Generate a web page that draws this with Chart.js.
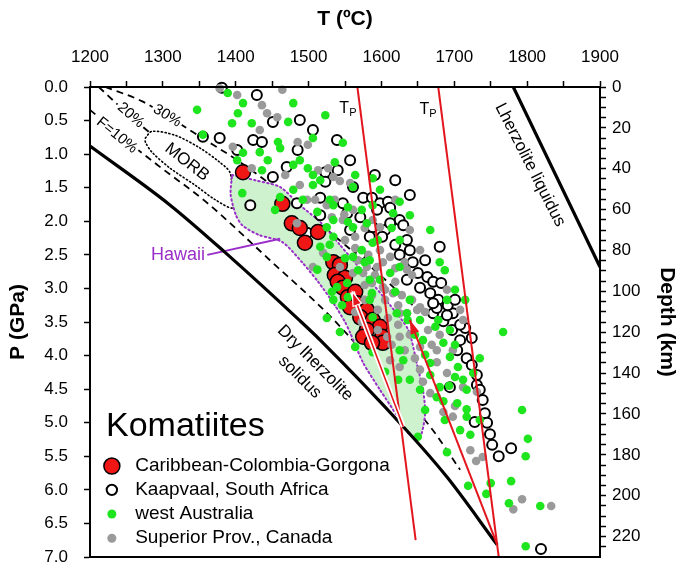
<!DOCTYPE html>
<html>
<head>
<meta charset="utf-8">
<script src="https://cdn.jsdelivr.net/npm/chart.js@4.4.0/dist/chart.umd.min.js"></script>
<style>
html,body{margin:0;padding:0;background:#fff;}
#wrap{width:685px;height:567px;}
</style>
</head>
<body>
<div id="wrap"><canvas id="c" width="685" height="567"></canvas></div>
<script>
const FONT = '"Liberation Sans", Arial, Helvetica, sans-serif';

// ---------- tick labels ----------
const tempTickLabels = [1200, 1300, 1400, 1500, 1600, 1700, 1800, 1900];
const pressureTickLabels = [0, 0.5, 1, 1.5, 2, 2.5, 3, 3.5, 4, 4.5, 5, 5.5, 6, 6.5, 7];
const depthTickLabels = [0, 20, 40, 60, 80, 100, 120, 140, 160, 180, 200, 220];

// ---------- series: [T (°C), P (GPa)] ----------
const caribbean = [
  [1410,1.27],[1464,1.74],[1477,2.03],[1488,2.10],[1513,2.16],[1495,2.32],[1534,2.61],[1543,2.65],
  [1536,2.80],[1550,2.84],[1540,2.90],[1547,2.99],[1554,3.13],[1564,3.05],[1566,3.22],[1557,3.28],
  [1580,3.32],[1571,3.43],[1588,3.47],[1598,3.57],[1580,3.62],[1601,3.72],[1575,3.72],[1602,3.81],[1587,3.81]
];
const kaapvaal = [
  [1381,0.01],[1429,0.12],[1451,0.52],[1506,0.64],[1355,0.74],[1378,0.76],[1424,0.79],[1436,0.82],
  [1539,0.79],[1402,0.94],[1485,0.94],[1470,1.19],[1540,1.24],[1451,1.34],[1523,1.27],[1523,1.41],
  [1561,1.49],[1575,1.65],[1516,1.65],[1420,1.76],[1484,1.73],[1547,1.73],[1553,1.88],[1571,1.94],
  [1587,1.65],[1598,1.73],[1609,1.71],[1594,1.83],[1612,1.80],[1516,1.91],[1588,2.09],[1605,2.13],
  [1625,1.98],[1612,2.03],[1630,2.06],[1584,2.23],[1601,2.23],[1635,2.28],[1498,2.17],[1680,2.38],
  [1625,2.50],[1643,2.61],[1650,2.77],[1663,2.83],[1671,2.90],[1682,2.92],[1653,2.99],[1635,2.87],
  [1667,3.07],[1678,3.17],[1698,3.37],[1671,3.37],[1685,3.49],[1676,3.29],[1697,3.62],[1724,3.74],
  [1717,4.04],[1731,4.44],[1739,4.66],[1742,4.86],[1745,5.00],[1694,4.47],[1728,4.99],[1708,3.77],
  [1690,3.40],[1671,3.22],[1724,4.14],[1731,4.29],[1735,4.51],[1749,5.17],[1752,5.33],[1761,5.50],
  [1778,5.38],[1819,6.88],[1557,2.13],[1571,2.50],[1619,2.35],[1639,2.43],[1704,3.92],[1715,3.59],
  [1660,2.58],[1691,3.25],[1708,3.54],[1701,3.17],[1619,1.39],[1639,1.61],[1557,1.09],[1591,1.31],[1488,0.49]
];
const westAustralia = [
  [1389,0.09],[1479,0.24],[1410,0.24],[1347,0.34],[1403,0.39],[1523,0.42],[1395,0.54],[1422,0.54],
  [1472,0.52],[1355,0.71],[1458,0.82],[1506,0.76],[1547,0.83],[1410,0.98],[1433,0.97],[1461,0.91],
  [1479,1.16],[1536,1.12],[1402,1.09],[1444,1.09],[1436,1.24],[1506,1.31],[1561,1.49],[1479,1.53],
  [1506,1.46],[1409,1.58],[1461,1.64],[1454,1.83],[1534,1.76],[1554,1.79],[1512,1.86],[1588,1.76],
  [1561,2.09],[1525,2.09],[1534,2.23],[1588,2.32],[1516,2.38],[1584,2.58],[1512,2.72],[1539,2.98],
  [1554,3.13],[1584,2.87],[1488,1.09],[1499,1.21],[1588,1.36],[1625,1.71],[1492,1.68],[1573,1.83],
  [1616,1.88],[1534,1.98],[1580,2.03],[1625,2.28],[1680,2.61],[1573,2.43],[1625,2.68],[1612,2.77],
  [1587,3.07],[1553,2.92],[1534,3.17],[1525,2.53],[1561,2.53],[1639,3.17],[1621,3.37],[1653,3.47],
  [1767,3.65],[1793,4.81],[1690,3.17],[1674,3.57],[1694,4.02],[1685,3.81],[1705,4.17],[1701,4.32],
  [1712,4.36],[1680,4.47],[1676,4.62],[1717,4.51],[1704,4.71],[1717,4.91],[1735,4.96],[1726,4.26],
  [1525,3.44],[1543,3.65],[1564,3.87],[1588,3.95],[1630,4.07],[1623,4.36],[1653,4.51],[1650,5.21],
  [1690,5.44],[1685,4.68],[1735,4.04],[1722,5.18],[1667,4.11],[1657,3.77],[1625,3.92],[1635,3.37],
  [1584,3.17],[1588,3.43],[1693,4.45],[1717,4.80],[1801,5.24],[1798,5.50],[1719,5.94],[1750,5.90],
  [1778,5.87],[1744,6.06],[1775,6.20],[1818,6.24],[1798,6.84],[1532,3.05],[1546,3.25],
  [1529,2.35],[1550,2.55],[1568,2.73],[1577,2.61],[1598,2.87],[1619,3.05],[1636,3.47],[1646,3.69],
  [1660,3.99],[1678,3.47],[1694,3.62],[1701,3.84],[1614,2.10],[1595,2.28],[1554,2.01],[1529,1.68],
  [1516,1.39],[1564,1.31],[1598,1.53],[1639,1.91],[1667,2.13],[1687,2.73],[1701,3.02],[1715,3.17],
  [1605,4.24],[1639,4.36],[1667,4.29],[1687,4.96],[1660,4.81],[1708,5.11]
];
const superior = [
  [1378,0.02],[1402,0.12],[1464,0.04],[1436,0.27],[1443,0.39],[1457,0.45],[1433,0.64],[1485,0.82],
  [1499,0.86],[1396,0.89],[1527,1.21],[1422,1.21],[1557,1.43],[1498,1.68],[1561,1.83],[1532,1.94],
  [1588,1.98],[1484,2.03],[1520,2.47],[1575,2.77],[1594,2.68],[1513,1.24],[1534,1.34],[1543,1.40],
  [1536,1.68],[1525,1.76],[1549,1.90],[1547,1.98],[1598,2.09],[1564,2.23],[1598,2.43],[1612,2.53],
  [1690,3.02],[1708,3.32],[1712,3.47],[1602,2.98],[1580,2.68],[1561,2.77],[1543,2.68],[1506,2.68],
  [1616,3.07],[1649,3.32],[1635,3.37],[1635,2.72],[1698,3.92],[1690,4.26],[1676,4.10],[1685,4.84],
  [1698,4.91],[1625,4.17],[1657,4.39],[1712,4.47],[1731,4.54],[1722,5.41],[1739,5.51],[1653,4.21],
  [1676,3.92],[1653,3.28],[1625,3.37],[1653,3.87],[1625,3.72],[1608,3.72],[1595,3.32],[1667,4.56],
  [1730,5.57],[1781,6.29],[1793,6.14],[1833,6.24],[1701,4.75],[1568,2.58],[1577,2.95],[1587,3.10],
  [1605,3.17],[1619,2.90],[1628,3.10],[1591,2.80],[1609,3.44],[1623,3.54],[1639,3.69],[1573,3.50],
  [1564,2.40],[1582,2.50],[1602,2.61],[1619,2.70],[1632,2.61],[1642,2.80],[1587,2.92],[1605,3.02],
  [1623,3.25],[1642,3.17],[1660,3.35],[1577,3.17],[1595,3.62],[1614,3.84],[1632,3.92],[1646,4.04],
  [1612,4.07],[1664,3.62],[1669,3.84],[1564,3.35],[1550,2.28],[1509,1.68],[1488,1.46],[1468,1.31],
  [1577,2.10],[1619,1.68],[1639,2.13],[1653,2.43],[1680,3.69]
];

// ---------- curves ----------
const drySolidus = [[1200,0.88],[1310,1.76],[1385,2.46],[1488,3.48],[1516,3.77],[1630,5.06],[1690,5.81],[1759,6.82]];
const lherzLiquidus = [[1781,0.0],[1900,2.68]];
const meltF10 = [[1200,0.34],[1241,0.72],[1296,1.19],[1358,1.70],[1447,2.58],[1532,3.44],[1598,4.23],[1667,5.06],[1708,5.70]];
const meltF20 = [[1212,0.0],[1250,0.38],[1290,0.75],[1350,1.22],[1420,1.80],[1480,2.35],[1540,2.95],[1600,3.60],[1640,4.10]];
const meltF30 = [[1221,0.0],[1271,0.21],[1306,0.43],[1351,0.74],[1402,1.09],[1461,1.56],[1529,2.16],[1598,2.80],[1653,3.35]];
const adiabatTp1 = [[1567,0.0],[1647,6.75]];
const adiabatTp2 = [[1678,0.0],[1761,7.0]];
const meltPath1 = [[1630,5.06],[1560,3.05]];
const meltPath2 = [[1759,6.82],[1639,3.47]];
const morbField = [[1276,0.76],[1285,0.66],[1317,0.72],[1351,0.91],[1378,1.12],[1392,1.27],[1395,1.53],[1396,1.80],
  [1372,1.68],[1344,1.46],[1310,1.21],[1285,0.97],[1276,0.82],[1276,0.76]];
const hawaiiField = [[1395,1.31],[1427,1.39],[1461,1.49],[1488,1.76],[1516,2.01],[1543,2.35],[1578,2.80],[1612,3.25],
  [1637,3.62],[1649,4.14],[1657,4.51],[1660,4.86],[1653,5.21],[1639,5.18],[1623,4.92],[1598,4.51],[1575,4.11],
  [1557,3.66],[1550,3.50],[1536,3.25],[1513,2.90],[1491,2.61],[1464,2.31],[1431,2.20],[1409,2.06],[1400,1.90],
  [1393,1.60],[1395,1.31]];
const hawaiiPointer = [[1361,2.50],[1461,2.26]];

const xy = arr => arr.map(([x, y]) => ({x, y}));

const RED = '#f01616';
const LINE_RED = '#e3161e';
const GREEN = '#1fe51f';
const GRAY = '#9a9a9a';
const PURPLE = '#9a2ec8';

function lineDs(data, opts) {
  return Object.assign({data: xy(data), showLine: true, pointRadius: 0, pointHoverRadius: 0,
    borderColor: '#000', borderWidth: 2, fill: false, tension: 0}, opts);
}
function ptDs(label, data, opts) {
  return Object.assign({label, data: xy(data), showLine: false, clip: false, pointStyle: 'circle'}, opts);
}

const annotations = [
  {text: 'F=10%', T: 1237, P: 0.72, rot: 39, size: 15, bg: true},
  {text: '20%', T: 1256, P: 0.42, rot: 41, size: 15, bg: true},
  {text: '30%', T: 1306, P: 0.43, rot: 32, size: 15, bg: true},
  {text: 'MORB', T: 1333, P: 1.12, rot: 38, size: 17},
  {text: 'Hawaii', T: 1358, P: 2.50, rot: 0, size: 18, color: PURPLE, align: 'right'},
  {text: 'Dry lherzolite', T: 1509, P: 4.11, rot: 45, size: 17},
  {text: 'solidus', T: 1488, P: 4.32, rot: 45, size: 17},
  {text: 'Lherzolite liquidus', T: 1804, P: 1.16, rot: 63, size: 17}
];
const tpLabels = [{T: 1554, P: 0.30}, {T: 1664, P: 0.31}];
const legendTitle = {text: 'Komatiites', T: 1222, P: 5.06, size: 34};
const legendItems = [
  {text: 'Caribbean-Colombia-Gorgona', P: 5.645, r: 8, fill: RED, stroke: '#000', lw: 1.5},
  {text: 'Kaapvaal, South Africa', P: 6.00, r: 5.2, fill: '#fff', stroke: '#000', lw: 2},
  {text: 'west Australia', P: 6.36, r: 4.5, fill: GREEN, stroke: null, lw: 0},
  {text: 'Superior Prov., Canada', P: 6.72, r: 4.5, fill: GRAY, stroke: null, lw: 0}
];

const overlay = {
  id: 'overlay',
  afterDatasetsDraw(chart) {
    const ctx = chart.ctx;
    const sx = chart.scales.x, sy = chart.scales.y;
    const a = chart.chartArea;
    ctx.save();
    ctx.strokeStyle = '#000'; ctx.lineWidth = 2;
    ctx.strokeRect(a.left, a.top, a.right - a.left, a.bottom - a.top);
    ctx.restore();
    chart.data.datasets.forEach((ds, i) => {
      if (!ds.arrowHead) return;
      const pts = chart.getDatasetMeta(i).data;
      const p1 = pts[pts.length - 2], p2 = pts[pts.length - 1];
      const ang = Math.atan2(p2.y - p1.y, p2.x - p1.x);
      const L = 14, W = 4.5;
      ctx.save();
      ctx.translate(p2.x, p2.y); ctx.rotate(ang);
      ctx.beginPath(); ctx.moveTo(0, 0); ctx.lineTo(-L, -W); ctx.lineTo(-L, W); ctx.closePath();
      ctx.fillStyle = LINE_RED; ctx.fill();
      if (ds.arrowHead === 'white') { ctx.strokeStyle = '#fff'; ctx.lineWidth = 1.2; ctx.stroke(); }
      ctx.restore();
    });
    annotations.forEach(t => {
      const x = sx.getPixelForValue(t.T), y = sy.getPixelForValue(t.P);
      ctx.save();
      ctx.translate(x, y); ctx.rotate(t.rot * Math.PI / 180);
      ctx.font = t.size + 'px ' + FONT;
      ctx.textAlign = t.align || 'center'; ctx.textBaseline = 'middle';
      if (t.bg) {
        const w = ctx.measureText(t.text).width;
        ctx.fillStyle = '#fff';
        ctx.fillRect(-w / 2 - 2, -t.size * 0.55, w + 4, t.size * 1.1);
      }
      ctx.fillStyle = t.color || '#000';
      ctx.fillText(t.text, 0, 0);
      ctx.restore();
    });
    tpLabels.forEach(t => {
      const x = sx.getPixelForValue(t.T), y = sy.getPixelForValue(t.P);
      ctx.save();
      ctx.fillStyle = '#000'; ctx.textAlign = 'left'; ctx.textBaseline = 'alphabetic';
      ctx.font = '16px ' + FONT; const wT = ctx.measureText('T').width;
      ctx.font = '11px ' + FONT; const wP = ctx.measureText('P').width;
      const x0 = x - (wT + wP) / 2;
      ctx.font = '16px ' + FONT; ctx.fillText('T', x0, y + 6);
      ctx.font = '11px ' + FONT; ctx.fillText('P', x0 + wT, y + 9);
      ctx.restore();
    });
    ctx.save();
    ctx.fillStyle = '#000'; ctx.textBaseline = 'middle'; ctx.textAlign = 'left';
    ctx.font = legendTitle.size + 'px ' + FONT;
    ctx.fillText(legendTitle.text, sx.getPixelForValue(legendTitle.T), sy.getPixelForValue(legendTitle.P));
    const mx = sx.getPixelForValue(1230), tx = sx.getPixelForValue(1262);
    legendItems.forEach(it => {
      const y = sy.getPixelForValue(it.P);
      ctx.beginPath(); ctx.arc(mx, y, it.r, 0, Math.PI * 2);
      ctx.fillStyle = it.fill; ctx.fill();
      if (it.stroke) { ctx.strokeStyle = it.stroke; ctx.lineWidth = it.lw; ctx.stroke(); }
      ctx.fillStyle = '#000'; ctx.font = '19px ' + FONT;
      ctx.fillText(it.text, tx, y);
    });
    ctx.restore();
  }
};

const datasets = [
  lineDs(meltPath1, {borderColor: LINE_RED, borderWidth: 1.6, order: 1, arrowHead: 'white'}),
  lineDs(meltPath1, {borderColor: '#fff', borderWidth: 5, order: 2}),
  lineDs(meltPath2, {borderColor: LINE_RED, borderWidth: 2, order: 3, arrowHead: 'plain'}),
  lineDs(adiabatTp1, {borderColor: LINE_RED, borderWidth: 2, order: 4}),
  lineDs(adiabatTp2, {borderColor: LINE_RED, borderWidth: 2, order: 4}),
  lineDs(drySolidus, {borderColor: '#000', borderWidth: 3.2, order: 5, cubicInterpolationMode: 'monotone'}),
  lineDs(lherzLiquidus, {borderColor: '#000', borderWidth: 3.2, order: 5}),
  lineDs(hawaiiPointer, {borderColor: PURPLE, borderWidth: 2, order: 6}),
  ptDs('west Australia', westAustralia, {pointRadius: 4.3, pointBackgroundColor: GREEN, pointBorderWidth: 0, pointBorderColor: GREEN, order: 7}),
  ptDs('Superior Prov., Canada', superior, {pointRadius: 4.3, pointBackgroundColor: GRAY, pointBorderWidth: 0, pointBorderColor: GRAY, order: 8}),
  ptDs('Caribbean-Colombia-Gorgona', caribbean, {pointRadius: 7.5, pointBackgroundColor: RED, pointBorderWidth: 1.5, pointBorderColor: '#000', order: 9}),
  ptDs('Kaapvaal, South Africa', kaapvaal, {pointRadius: 5, pointBackgroundColor: '#fff', pointBorderWidth: 2, pointBorderColor: '#000', order: 10}),
  lineDs(hawaiiField, {borderColor: PURPLE, borderWidth: 2, borderDash: [1.5, 3], borderCapStyle: 'round',
    fill: 'shape', backgroundColor: '#cdf2cd', tension: 0.25, order: 11}),
  lineDs(morbField, {borderColor: '#000', borderWidth: 1.6, borderDash: [1.2, 2.6], borderCapStyle: 'round',
    fill: 'shape', backgroundColor: '#fff', tension: 0.3, order: 12}),
  lineDs(meltF10, {borderColor: '#000', borderWidth: 1.8, borderDash: [7, 5], order: 13, cubicInterpolationMode: 'monotone'}),
  lineDs(meltF20, {borderColor: '#000', borderWidth: 1.8, borderDash: [7, 5], order: 13, cubicInterpolationMode: 'monotone'}),
  lineDs(meltF30, {borderColor: '#000', borderWidth: 1.8, borderDash: [7, 5], order: 13, cubicInterpolationMode: 'monotone'})
];

const tickFont = {family: FONT, size: 17};
const titleFont = {family: FONT, size: 21, weight: 'bold'};
const noPad = s => { s.paddingTop = 0; s.paddingBottom = 0; s.paddingLeft = 0; s.paddingRight = 0; };

new Chart(document.getElementById('c'), {
  type: 'scatter',
  data: {datasets},
  plugins: [overlay],
  options: {
    responsive: false,
    maintainAspectRatio: false,
    devicePixelRatio: 1,
    animation: false,
    events: [],
    layout: {padding: {top: 0, left: 0, right: 0, bottom: 10}},
    plugins: {legend: {display: false}, tooltip: {enabled: false}},
    scales: {
      x: {
        type: 'linear', position: 'top', min: 1200, max: 1900,
        afterBuildTicks: s => {
          const t = [];
          for (let v = tempTickLabels[0]; v <= tempTickLabels[tempTickLabels.length - 1]; v += 50) t.push({value: v});
          s.ticks = t;
        },
        ticks: {autoSkip: false, maxRotation: 0, font: tickFont, color: '#000', padding: 13,
          callback: v => tempTickLabels.includes(v) ? String(v) : ''},
        grid: {drawOnChartArea: false, drawTicks: true, tickLength: 6, tickColor: '#000', tickWidth: 1.5},
        border: {display: true, color: '#000', width: 2},
        title: {display: true, text: 'T (ºC)', font: titleFont, color: '#000', padding: {top: 7, bottom: 0}},
        afterFit: s => { s.height = 87; noPad(s); }
      },
      y: {
        type: 'linear', position: 'left', reverse: true, min: 0, max: 7,
        afterBuildTicks: s => { s.ticks = pressureTickLabels.map(v => ({value: v})); },
        ticks: {autoSkip: false, font: tickFont, color: '#000', padding: 16, callback: v => Number(v).toFixed(1)},
        grid: {drawOnChartArea: false, drawTicks: true, tickLength: 6, tickColor: '#000', tickWidth: 1.5},
        border: {display: true, color: '#000', width: 2},
        title: {display: true, text: 'P (GPa)', font: titleFont, color: '#000', padding: {top: 6, bottom: 0}},
        afterFit: s => { s.width = 90; noPad(s); }
      },
      depth: {
        type: 'linear', position: 'right', reverse: true, min: 0, max: 230,
        afterBuildTicks: s => {
          const t = [];
          for (let v = 0; v <= 225; v += 5) t.push({value: v});
          s.ticks = t;
        },
        ticks: {autoSkip: false, font: tickFont, color: '#000', padding: 6,
          callback: v => depthTickLabels.includes(v) ? String(v) : ''},
        grid: {drawOnChartArea: false, drawTicks: true, tickLength: 6, tickColor: '#000', tickWidth: 1.5},
        border: {display: true, color: '#000', width: 2},
        title: {display: true, text: 'Depth (km)', font: titleFont, color: '#000', padding: {top: 6, bottom: 0}},
        afterFit: s => { s.width = 85; noPad(s); }
      }
    }
  }
});
</script>
</body>
</html>
